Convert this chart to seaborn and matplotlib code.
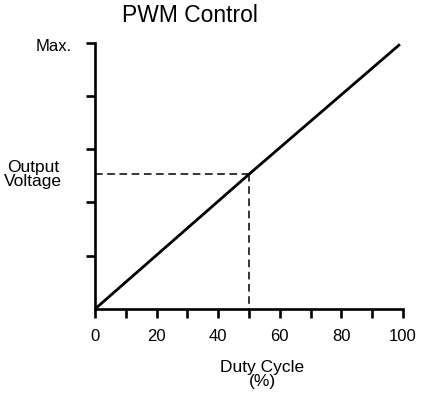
import matplotlib
matplotlib.use("Agg")
import matplotlib.pyplot as plt
import seaborn as sns
import pandas as pd

# Output voltage rises linearly with PWM duty cycle
duty_cycle = [0, 50, 99]
output_voltage = [0.0, 2.53, 4.97]

# Operating point marked with dashed guides
op_duty = 50
op_voltage = 2.53

x_ticks = [0, 10, 20, 30, 40, 50, 60, 70, 80, 90, 100]
x_tick_labels = ["0", "", "20", "", "40", "", "60", "", "80", "", "100"]
y_ticks = [1, 2, 3, 4, 5]
y_max_label = "Max."

sns.set_theme(style="ticks")
plt.rcParams["font.family"] = ["Liberation Sans", "DejaVu Sans"]
plt.rcParams["text.color"] = "black"

df = pd.DataFrame({"duty": duty_cycle, "voltage": output_voltage})

fig = plt.figure(figsize=(4.22, 3.93), dpi=100)
ax = fig.add_axes([95 / 422, 1 - 309 / 393, 308 / 422, (309 - 42.7) / 393])

sns.lineplot(data=df, x="duty", y="voltage", ax=ax, color="black",
             linewidth=2.0, solid_capstyle="butt")

dash = dict(color="black", linewidth=1.1, linestyle=(0, (5, 3)))
ax.plot([0, op_duty], [op_voltage, op_voltage], **dash)
ax.plot([op_duty, op_duty], [op_voltage, 0], **dash)

ax.set_xlim(0, 100)
ax.set_ylim(0, 5)
ax.set_xticks(x_ticks)
ax.set_xticklabels(x_tick_labels)
ax.set_yticks(y_ticks)
ax.set_yticklabels([""] * len(y_ticks))

for side in ("top", "right"):
    ax.spines[side].set_visible(False)
for side in ("left", "bottom"):
    ax.spines[side].set_linewidth(1.9)
    ax.spines[side].set_color("black")
    ax.spines[side].set_capstyle("projecting")

ax.tick_params(axis="x", direction="out", length=6.5, width=1.9, pad=8,
               labelsize=12, colors="black")
ax.tick_params(axis="y", direction="out", length=6.5, width=1.9,
               colors="black")

ax.annotate(y_max_label, xy=(0, y_ticks[-1]), xycoords=("axes fraction", "data"),
            xytext=(-17, -3), textcoords="offset points",
            ha="right", va="center", fontsize=12, annotation_clip=False)

ax.set_xlabel("")
ax.set_ylabel("")
ax.text(0.544, -0.19, "Duty Cycle\n(%)", transform=ax.transAxes,
        ha="center", va="top", fontsize=12.5, linespacing=0.92)

ax.text(-0.2, op_voltage, "Output\nVoltage", transform=ax.get_yaxis_transform(),
        ha="center", va="center", fontsize=12.5, linespacing=0.95)

fig.text(190 / 422, 1 - 15 / 393, "PWM Control", ha="center", va="center",
         fontsize=16.5)

fig.savefig("out.png", dpi=100)
